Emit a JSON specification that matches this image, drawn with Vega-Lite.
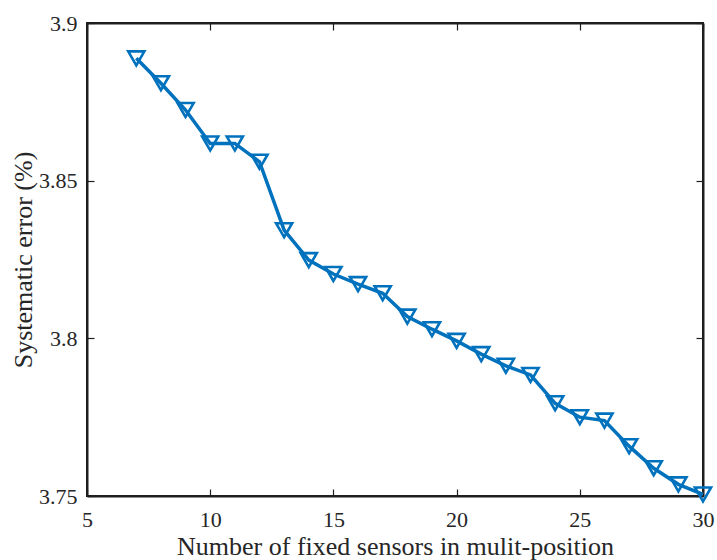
{
  "$schema": "https://vega.github.io/schema/vega-lite/v6.json",
  "width": 616,
  "height": 473,
  "autosize": {"type": "none"},
  "padding": {"left": 87, "top": 23, "right": 14, "bottom": 64},
  "background": "white",
  "config": {
    "view": {"stroke": "#1f1f1f", "strokeWidth": 2},
    "axis": {
      "domainColor": "#1f1f1f",
      "domainWidth": 2,
      "tickColor": "#1f1f1f",
      "tickWidth": 1.2,
      "tickSize": -7,
      "grid": false,
      "labelFont": "Liberation Serif",
      "labelFontSize": 22,
      "labelColor": "#262626",
      "titleFont": "Liberation Serif",
      "titleFontSize": 26,
      "titleFontWeight": "normal",
      "titleColor": "#262626"
    }
  },
  "data": {
    "values": [
      {"n": 7, "err": 3.8888},
      {"n": 8, "err": 3.8809},
      {"n": 9, "err": 3.8724},
      {"n": 10, "err": 3.8618},
      {"n": 11, "err": 3.8618},
      {"n": 12, "err": 3.8560},
      {"n": 13, "err": 3.8343},
      {"n": 14, "err": 3.8248},
      {"n": 15, "err": 3.8204},
      {"n": 16, "err": 3.8172},
      {"n": 17, "err": 3.8143},
      {"n": 18, "err": 3.8069},
      {"n": 19, "err": 3.8029},
      {"n": 20, "err": 3.7992},
      {"n": 21, "err": 3.7950},
      {"n": 22, "err": 3.7913},
      {"n": 23, "err": 3.7884},
      {"n": 24, "err": 3.7794},
      {"n": 25, "err": 3.7750},
      {"n": 26, "err": 3.7739},
      {"n": 27, "err": 3.7658},
      {"n": 28, "err": 3.7588},
      {"n": 29, "err": 3.7537},
      {"n": 30, "err": 3.7505}
    ]
  },
  "layer": [
    {
      "mark": {"type": "line", "color": "#0072BD", "strokeWidth": 3.5},
      "encoding": {
        "x": {
          "field": "n", "type": "quantitative",
          "scale": {"domain": [5, 30], "nice": false, "zero": false},
          "axis": {"orient": "bottom", "values": [5, 10, 15, 20, 25, 30], "labelPadding": 20, "title": "Number of fixed sensors in mulit-position", "titlePadding": 3, "labelFlush": false}
        },
        "y": {
          "field": "err", "type": "quantitative",
          "scale": {"domain": [3.75, 3.9], "nice": false, "zero": false},
          "axis": {"orient": "left", "values": [3.75, 3.8, 3.85, 3.9], "format": ".2~f", "labelPadding": 17, "title": "Systematic error (%)", "titlePadding": 2, "labelFlush": false}
        }
      }
    },
    {
      "mark": {"type": "point", "shape": "triangle-down", "size": 260, "filled": false, "color": "#0072BD", "strokeWidth": 2.6, "opacity": 1},
      "encoding": {
        "x": {
          "field": "n", "type": "quantitative",
          "scale": {"domain": [5, 30], "nice": false, "zero": false},
          "axis": {"orient": "top", "values": [5, 10, 15, 20, 25, 30], "labels": false, "title": null}
        },
        "y": {
          "field": "err", "type": "quantitative",
          "scale": {"domain": [3.75, 3.9], "nice": false, "zero": false},
          "axis": {"orient": "right", "values": [3.75, 3.8, 3.85, 3.9], "labels": false, "title": null}
        }
      }
    }
  ]
}
